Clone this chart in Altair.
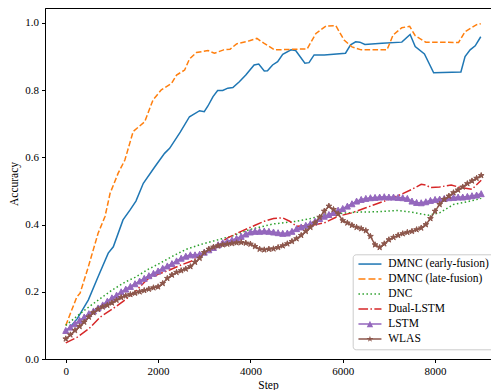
import altair as alt
import pandas as pd

FONT = "Liberation Serif"

names = ["DMNC (early-fusion)", "DMNC (late-fusion)", "DNC", "Dual-LSTM", "LSTM", "WLAS"]
colors = ["#1f77b4", "#ff7f0e", "#2ca02c", "#d62728", "#9467bd", "#8c564b"]

early_steps = [0, 250, 490, 700, 920, 1030, 1240, 1390, 1520, 1680, 1930, 2140, 2250, 2480, 2680,
               2900, 3000, 3080, 3190, 3290, 3400, 3510, 3620, 3760, 3900, 4080, 4180, 4300, 4370,
               4480, 4590, 4700, 4880, 4980, 5180, 5270, 5380, 5600, 6060, 6170, 6280, 6370, 6480,
               6850, 7280, 7460, 7570, 7770, 7970, 8560, 8650, 8760, 8870, 8990]
early_vals = [0.080, 0.120, 0.176, 0.245, 0.315, 0.334, 0.414, 0.443, 0.470, 0.523, 0.572, 0.612,
              0.627, 0.675, 0.721, 0.739, 0.736, 0.753, 0.781, 0.799, 0.799, 0.806, 0.808, 0.825,
              0.845, 0.875, 0.878, 0.857, 0.858, 0.875, 0.885, 0.907, 0.920, 0.918, 0.880, 0.882,
              0.905, 0.905, 0.910, 0.935, 0.944, 0.943, 0.936, 0.940, 0.943, 0.966, 0.930, 0.908,
              0.852, 0.854, 0.900, 0.920, 0.932, 0.959]

late_steps = [0, 240, 310, 490, 700, 850, 960, 1135, 1280, 1460, 1710, 1890, 2070, 2290, 2400,
              2575, 2680, 2830, 3080, 3220, 3420, 3560, 3700, 3980, 4140, 4290, 4520, 5230, 5420,
              5640, 5850, 6030, 6200, 6400, 6960, 7090, 7280, 7450, 7570, 7800, 8510, 8650, 8900, 8990]
late_vals = [0.100, 0.185, 0.196, 0.275, 0.374, 0.424, 0.493, 0.553, 0.592, 0.677, 0.706, 0.771,
             0.801, 0.820, 0.845, 0.860, 0.893, 0.912, 0.918, 0.910, 0.920, 0.922, 0.938, 0.947,
             0.954, 0.940, 0.920, 0.923, 0.969, 0.991, 0.992, 0.949, 0.929, 0.920, 0.920, 0.964,
             0.986, 0.990, 0.962, 0.943, 0.942, 0.974, 0.995, 0.998]

dnc_steps = [0, 250, 500, 1000, 1300, 1500, 1800, 2000, 2300, 2600, 2900, 3250, 3600, 4000, 4500,
             5000, 5300, 5600, 6000, 6300, 6700, 7200, 7500, 7850, 8100, 8400, 8700, 9000]
dnc_vals = [0.100, 0.128, 0.155, 0.205, 0.230, 0.243, 0.268, 0.282, 0.305, 0.326, 0.340, 0.353,
            0.366, 0.386, 0.402, 0.410, 0.418, 0.428, 0.434, 0.437, 0.438, 0.442, 0.437, 0.428,
            0.435, 0.460, 0.468, 0.478]

dual_steps = [0, 250, 500, 750, 1000, 1250, 1500, 1750, 2000, 2250, 2500, 2700, 2900, 3200, 3500,
              3800, 4100, 4300, 4500, 4700, 4850, 5000, 5300, 5600, 5900, 6200, 6500, 6800, 7000,
              7300, 7500, 7700, 7800, 7900, 8100, 8350, 8500, 8800, 9000]
dual_vals = [0.048, 0.065, 0.090, 0.125, 0.148, 0.172, 0.200, 0.235, 0.252, 0.265, 0.280, 0.290,
             0.305, 0.330, 0.360, 0.380, 0.398, 0.410, 0.418, 0.420, 0.410, 0.395, 0.397, 0.405,
             0.425, 0.435, 0.450, 0.465, 0.475, 0.492, 0.505, 0.520, 0.518, 0.510, 0.512, 0.518,
             0.512, 0.505, 0.532]

marker_steps = list(range(0, 9001, 100))
lstm_vals = [0.085, 0.095, 0.105, 0.115, 0.125, 0.135, 0.143, 0.152, 0.161, 0.172,
             0.182, 0.190, 0.200, 0.208, 0.216, 0.224, 0.232, 0.240, 0.248, 0.255,
             0.262, 0.270, 0.277, 0.284, 0.292, 0.300, 0.306, 0.310, 0.310, 0.312,
             0.318, 0.325, 0.332, 0.340, 0.346, 0.350, 0.354, 0.359, 0.365, 0.372,
             0.378, 0.380, 0.380, 0.381, 0.380, 0.378, 0.376, 0.374, 0.375, 0.380,
             0.388, 0.393, 0.398, 0.403, 0.410, 0.418, 0.425, 0.430, 0.436, 0.443,
             0.448, 0.455, 0.462, 0.470, 0.475, 0.478, 0.480, 0.481, 0.482, 0.483,
             0.482, 0.482, 0.481, 0.480, 0.478, 0.470, 0.466, 0.465, 0.468, 0.472,
             0.475, 0.476, 0.478, 0.480, 0.481, 0.482, 0.482, 0.484, 0.486, 0.488,
             0.492]
wlas_vals = [0.060, 0.072, 0.085, 0.097, 0.110, 0.125, 0.138, 0.148, 0.155, 0.160,
             0.167, 0.175, 0.183, 0.188, 0.192, 0.196, 0.200, 0.204, 0.208, 0.212,
             0.215, 0.225, 0.240, 0.250, 0.258, 0.263, 0.268, 0.275, 0.288, 0.300,
             0.317, 0.327, 0.333, 0.337, 0.340, 0.342, 0.344, 0.346, 0.347, 0.345,
             0.342, 0.335, 0.327, 0.325, 0.327, 0.328, 0.332, 0.337, 0.343, 0.350,
             0.358, 0.368, 0.380, 0.392, 0.405, 0.422, 0.440, 0.455, 0.445, 0.432,
             0.412, 0.405, 0.398, 0.392, 0.388, 0.382, 0.365, 0.340, 0.332, 0.343,
             0.355, 0.362, 0.368, 0.373, 0.377, 0.380, 0.385, 0.390, 0.400, 0.418,
             0.440, 0.460, 0.475, 0.485, 0.495, 0.503, 0.512, 0.522, 0.530, 0.538,
             0.546]

series_steps = [early_steps, late_steps, dnc_steps, dual_steps, marker_steps, marker_steps]
series_vals = [early_vals, late_vals, dnc_vals, dual_vals, lstm_vals, wlas_vals]

rows = []
for n, ss, vv in zip(names, series_steps, series_vals):
    for s, v in zip(ss, vv):
        rows.append({"series": n, "step": s, "value": v})
df = pd.DataFrame(rows)

dashes = [None, [5.55, 2.4], [1.5, 2.475], [9.6, 2.4, 1.5, 2.4], None, None]


# marker / legend-handle geometry (SVG paths in symbol units)
def star_pts(scale=1.0, dx=0.0):
    outer = [(0, -1), (0.9511, -0.309), (0.5878, 0.809), (-0.5878, 0.809), (-0.9511, -0.309)]
    inner = [(0.2245, -0.309), (0.3633, 0.118), (0, 0.382), (-0.3633, 0.118), (-0.2245, -0.309)]
    pts = []
    for o, i in zip(outer, inner):
        pts.append(o)
        pts.append(i)
    return "M" + "L".join(f"{x*scale+dx:.3f},{y*scale:.3f}" for x, y in pts) + "Z"


def tri_pts(scale=1.0, dx=0.0):
    pts = [(0, -1), (1, 1), (-1, 1)]
    return "M" + "L".join(f"{x*scale+dx:.3f},{y*scale:.3f}" for x, y in pts) + "Z"


def seg(x0, x1, h=0.19):
    return f"M{x0:.3f},{-h}L{x1:.3f},{-h}L{x1:.3f},{h}L{x0:.3f},{h}Z"


STAR = star_pts()
TRI = tri_pts()

leg_paths = [
    seg(-1, 4.75),
    seg(-1, 0.75) + seg(1.5, 3.25) + seg(4, 4.75),
    "".join(seg(k - 1, k - 0.625) for k in range(6)),
    seg(-1, 1.4) + seg(2, 2.375) + seg(2.975, 4.75),
    seg(-1, 4.75) + tri_pts(0.8, 1.875),
    seg(-1, 4.75) + star_pts(0.85, 1.875),
]

x_enc = alt.X("step:Q", scale=alt.Scale(domain=[-450, 9212], nice=False, zero=False),
              axis=alt.Axis(values=[0, 2000, 4000, 6000, 8000], format="d", title="Step",
                            titlePadding=3))
y_enc = alt.Y("value:Q", scale=alt.Scale(domain=[0, 1.0446], nice=False),
              axis=alt.Axis(values=[0, 0.2, 0.4, 0.6, 0.8, 1.0], format=".1f", title="Accuracy",
                            titlePadding=5))

base = alt.Chart(df)
layers = []
for i, n in enumerate(names):
    kw = dict(strokeWidth=1.5, color=colors[i], clip=True)
    if dashes[i] is not None:
        kw["strokeDash"] = dashes[i]
    layers.append(base.transform_filter(alt.datum.series == n).mark_line(**kw).encode(x=x_enc, y=y_enc))
    if n == "LSTM":
        layers.append(base.transform_filter(alt.datum.series == n).mark_point(
            shape=TRI, filled=True, size=36, color=colors[i], stroke=colors[i], strokeWidth=1,
            opacity=1, clip=True).encode(x=x_enc, y=y_enc))
    if n == "WLAS":
        layers.append(base.transform_filter(alt.datum.series == n).mark_point(
            shape=STAR, filled=True, size=36, color=colors[i], stroke=colors[i], strokeWidth=1,
            opacity=1, clip=True).encode(x=x_enc, y=y_enc))

legend_df = pd.DataFrame({"series": names, "step": [-5000] * 6, "value": [0.5] * 6})
leg = alt.Legend(
    title=None, orient="none", legendX=307.7, legendY=246.3, labelFont=FONT,
    labelFontSize=11.5, labelColor="black", symbolSize=64, symbolStrokeWidth=0,
    labelOffset=20, rowPadding=2, padding=4, fillColor="white", strokeColor="#cccccc",
    cornerRadius=3, symbolOpacity=1, labelLimit=300,
)
legend_layer = alt.Chart(legend_df).mark_point(filled=True, size=64, clip=True, opacity=1,
                                                strokeWidth=0).encode(
    x=x_enc, y=y_enc,
    color=alt.Color("series:N", scale=alt.Scale(domain=names, range=colors), legend=leg),
    shape=alt.Shape("series:N", scale=alt.Scale(domain=names, range=leg_paths), legend=leg),
)
layers.append(legend_layer)

chart = alt.layer(*layers).properties(
    width=446, height=351,
    autosize=alt.AutoSizeParams(type="none"),
    padding={"left": 45, "top": 8, "right": 0, "bottom": 31},
    background="white",
).configure_view(stroke="black", strokeWidth=1).configure_axis(
    labelFont=FONT, labelFontSize=11, titleFont=FONT, titleFontSize=11.5, titleFontWeight="normal",
    labelColor="black", titleColor="black", domainColor="black", tickColor="black", tickSize=3.5,
    domainWidth=1, tickWidth=1, grid=False, labelPadding=3,
)

chart.save("out.html", embed_options={"renderer": "svg", "actions": False})
